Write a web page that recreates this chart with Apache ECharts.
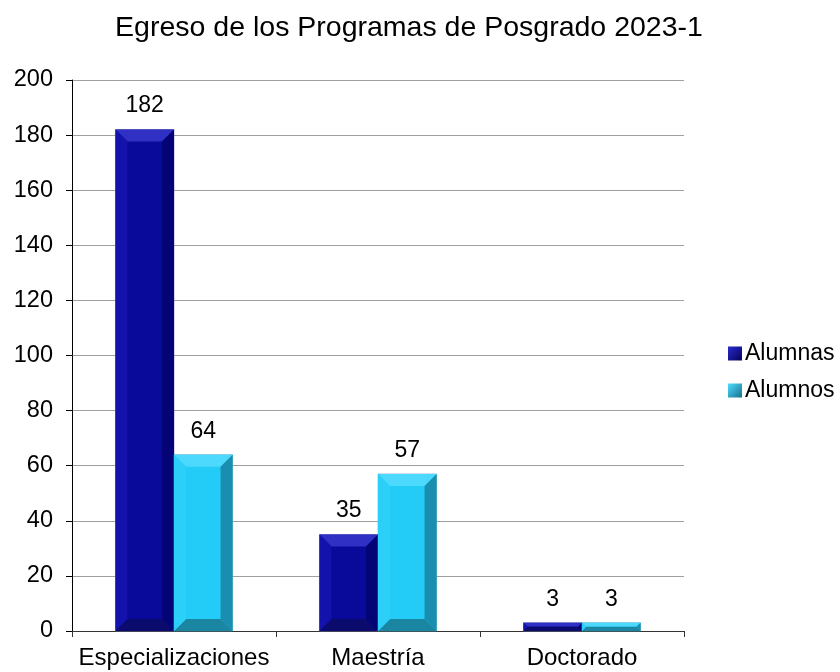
<!DOCTYPE html>
<html><head><meta charset="utf-8">
<script src="https://cdn.jsdelivr.net/npm/echarts@6/dist/echarts.min.js"></script>
<style>html,body{margin:0;padding:0;background:#fff}#c{width:840px;height:672px}</style>
</head><body><div id="c"></div>
<script>
const categories = ['Especializaciones', 'Maestría', 'Doctorado'];
const alumnas = [182, 35, 3];
const alumnos = [64, 57, 3];
const yTicks = [0, 20, 40, 60, 80, 100, 120, 140, 160, 180, 200];

const font = 'Liberation Sans, Arial, sans-serif';
const palA = {main: '#09099a', top: '#3030c4', left: '#1313ac', right: '#040476', bottom: '#0b0b6e', edge: '#7070b8'};
const palB = {main: '#22ccf6', top: '#4cd9fd', left: '#2ccff8', right: '#1a8eae', bottom: '#1b86a2', edge: '#5aa8c0'};

function makeRender(pal, side) {
  return function (params, api) {
    const idx = api.value(0), v = api.value(1);
    const top = api.coord([idx, v]);
    const base = api.coord([idx, 0]);
    const band = api.size([1, 0])[0];
    const w = band * 0.287;
    const x0 = side < 0 ? top[0] - w : top[0];
    const x1 = x0 + w;
    const y0 = top[1], y1 = base[1];
    const h = y1 - y0;
    const b = Math.min(12, h / 2, w / 2);
    const poly = (pts, fill) => ({type: 'polygon', shape: {points: pts}, style: {fill: fill}});
    return {
      type: 'group',
      children: [
        {type: 'rect', shape: {x: x0, y: y0, width: w, height: h}, style: {fill: pal.main, stroke: pal.edge, lineWidth: 0.6}},
        poly([[x0, y0], [x1, y0], [x1 - b, y0 + b], [x0 + b, y0 + b]], pal.top),
        poly([[x0, y1], [x1, y1], [x1 - b, y1 - b], [x0 + b, y1 - b]], pal.bottom),
        poly([[x0, y0], [x0 + b, y0 + b], [x0 + b, y1 - b], [x0, y1]], pal.left),
        poly([[x1, y0], [x1 - b, y0 + b], [x1 - b, y1 - b], [x1, y1]], pal.right),
        {type: 'text', style: {text: String(v), x: (x0 + x1) / 2, y: y0 - 12, align: 'center', verticalAlign: 'bottom',
          font: '23px ' + font, fill: '#000'}}
      ]
    };
  };
}

const chart = echarts.init(document.getElementById('c'));
chart.setOption({
  animation: false,
  title: {text: 'Egreso de los Programas de Posgrado 2023-1', left: 404, textAlign: 'center', top: 9,
    textStyle: {fontFamily: font, fontSize: 28.5, fontWeight: 'normal', color: '#000'}},
  grid: {left: 72, right: 156, top: 80, bottom: 41},
  legend: {orient: 'vertical', left: 723, top: 337, itemWidth: 14, itemHeight: 14, itemGap: 14,
    textStyle: {fontFamily: font, fontSize: 23, color: '#000', padding: [0, 0, 0, -2]},
    data: [{name: 'Alumnas', icon: 'rect'}, {name: 'Alumnos', icon: 'rect'}]},
  xAxis: {type: 'category', data: categories,
    axisLine: {lineStyle: {color: '#333'}},
    axisTick: {show: true, length: 6, lineStyle: {color: '#333'}},
    axisLabel: {interval: 0, fontFamily: font, fontSize: 24, color: '#000', margin: 15}},
  yAxis: {type: 'value', min: 0, max: 200, interval: 20,
    axisLine: {show: true, lineStyle: {color: '#000'}},
    axisTick: {show: true, inside: false, length: 6, lineStyle: {color: '#000'}},
    splitLine: {lineStyle: {color: '#a0a0a0'}},
    axisLabel: {fontFamily: font, fontSize: 23.5, color: '#000', margin: 19,
      formatter: v => yTicks.includes(v) ? String(v) : ''}},
  series: [
    {name: 'Alumnas', type: 'custom', renderItem: makeRender(palA, -1),
      itemStyle: {color: new echarts.graphic.LinearGradient(0, 0, 1, 1, [{offset: 0, color: '#2a2ad0'}, {offset: 1, color: '#03035a'}])},
      encode: {x: 0, y: 1}, data: alumnas.map((v, i) => [i, v])},
    {name: 'Alumnos', type: 'custom', renderItem: makeRender(palB, 1),
      itemStyle: {color: new echarts.graphic.LinearGradient(0, 0, 1, 1, [{offset: 0, color: '#50dcff'}, {offset: 1, color: '#15708c'}])},
      encode: {x: 0, y: 1}, data: alumnos.map((v, i) => [i, v])}
  ]
});
</script></body></html>
